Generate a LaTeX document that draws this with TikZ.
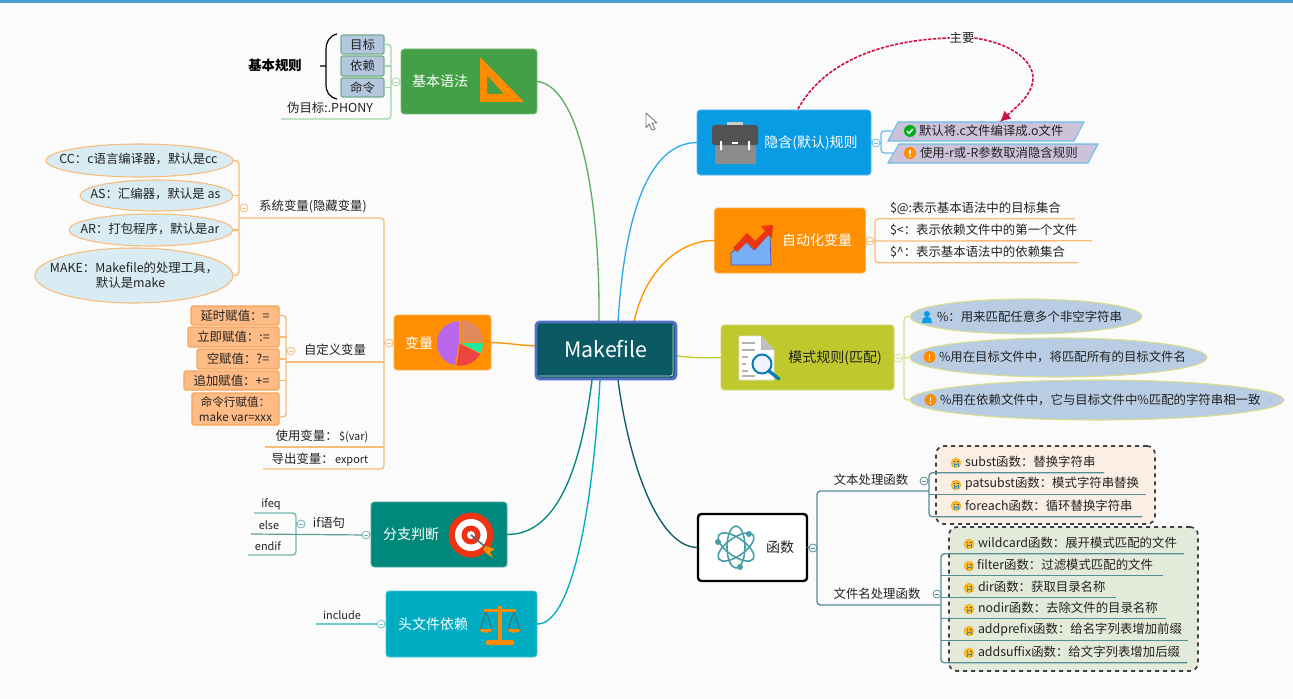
\documentclass[tikz,border=0pt]{standalone}
\usepackage{fontspec}
\setmainfont{Noto Sans CJK SC}
\usetikzlibrary{shapes.geometric,arrows.meta,calc}

\definecolor{paper}{HTML}{FBFBFC}
\definecolor{topbar}{HTML}{4A9FD0}
\definecolor{ink}{HTML}{222222}
\definecolor{cGreen}{HTML}{43A047}
\definecolor{cBlue}{HTML}{0A9BE5}
\definecolor{cOrange}{HTML}{FF8F00}
\definecolor{cLime}{HTML}{BFC92E}
\definecolor{cTeal}{HTML}{00897B}
\definecolor{cCyan}{HTML}{00ACC1}
\definecolor{cDark}{HTML}{0B5A63}
\definecolor{lGreen}{HTML}{A3D3A6}
\definecolor{lOrange}{HTML}{F8BC78}
\definecolor{lBlue}{HTML}{6BBDE8}
\definecolor{lLime}{HTML}{DADF8C}
\definecolor{lTeal}{HTML}{73B8B0}
\definecolor{lCyan}{HTML}{6FCBD8}
\definecolor{lDark}{HTML}{558F96}
\definecolor{rel}{HTML}{D01040}
\definecolor{iconY}{HTML}{F5B82E}
\definecolor{cellO}{HTML}{FFBB85}
\definecolor{lineO}{HTML}{F6A55A}
\definecolor{bCell}{HTML}{B4C7DF}
\definecolor{bCellLine}{HTML}{6FAE8A}
\definecolor{ovalB}{HTML}{D9ECF4}
\definecolor{ovalP}{HTML}{B8CCE4}
\definecolor{lavender}{HTML}{CCC3DB}
\definecolor{panelA}{HTML}{FBEEE5}
\definecolor{panelB}{HTML}{E4EAD9}
\definecolor{pieTan}{HTML}{E08A5E}
\definecolor{pieGreen}{HTML}{1DE9A0}
\definecolor{pieRed}{HTML}{EF4444}
\definecolor{piePurple}{HTML}{B968EE}

\newcommand{\tsize}{\fontsize{9.3}{11}\selectfont}
\newcommand{\bsize}{\fontsize{10.5}{12}\selectfont}
\newcommand{\lsize}{\fontsize{8.2}{10}\selectfont}

\tikzset{
  every node/.style={inner sep=0pt,outer sep=0pt,text=ink,font=\tsize},
  tx/.style={anchor=west},
  topicbox/.style={rectangle,rounded corners=2.5pt,draw=#1!70!white,line width=.7pt,fill=#1},
  topictext/.style={text=white,font=\bsize},
  mainline/.style={line width=1pt},
  branch/.style={line width=1pt,rounded corners=2.5pt},
  junction/.style={circle,draw=#1,fill=paper,line width=.6pt,minimum size=6pt,
    path picture={\draw[#1,line width=.5pt] ([xshift=-1.6pt]path picture bounding box.center) -- ([xshift=1.6pt]path picture bounding box.center);}},
  oval/.style={ellipse,line width=.8pt,align=center},
  bluecell/.style={rectangle,rounded corners=1.5pt,fill=bCell,line width=.9pt,draw=bCellLine},
  varcell/.style={rectangle,rounded corners=1.5pt,fill=cellO,draw=lineO,line width=.9pt,align=center},
  dashpanel/.style={rectangle,rounded corners=6pt,draw=black!75,dashed,line width=1.3pt,fill=#1},
  relation/.style={rel,line width=1.2pt,dash pattern=on 2.5pt off 1.1pt},
  goodmark/.pic={
    \fill[green!65!black!90!cyan] (0,0) circle (6);
    \draw[white,line width=1pt] (-3,0) -- (-1,2.3) -- (3,-2);
  },
  warnmark/.pic={
    \fill[orange!90!yellow] (0,0) circle (6);
    \fill[white] (-.9,-3.5) rectangle (.9,1.3);
    \fill[white] (0,3.2) circle (1);
  },
  personmark/.pic={
    \fill[cBlue] (0,-3) circle (3);
    \fill[cBlue] (-5,6) -- (-4,1.5) -- (-1.5,0) -- (1.5,0) -- (4,1.5) -- (5,6) -- cycle;
  },
  funmark/.pic={
    \fill[iconY] (0,0) circle (5.3);
    \draw[cBlue!70!gray,line width=.7pt] (-2,-.5) -- (-2,4) (2,-.5) -- (2,4) (-2,1.2) -- (2,1.2);
    \draw[black!60!iconY,line width=.6pt] (-2.5,-2) -- (-1,-2) (1,-2) -- (2.5,-2);
  }
}

% A text with a rule beneath it: name, x, y of the text, x of the rule end, text
\newcommand{\leafrow}[5]{%
  \node[tx] (#1) at (#2,#3) {#5};
  \pgfmathsetmacro{\ruley}{#3+10.8}
  \coordinate (#1-end) at (#4,\ruley);
}

\begin{document}
\begin{tikzpicture}[x=0.75pt,y=-0.75pt]
\useasboundingbox (0,0) rectangle (1293,699);
\fill[paper] (0,0) rectangle (1293,699);
\fill[topbar] (0,0) rectangle (1293,3);

% pointer
\draw[gray,fill=white,line width=.7pt,line join=round]
  (646,113) -- (657,123) -- (652,123) -- (655,129) -- (652,130) -- (649,124) -- (646,128) -- cycle;

% ---------- central topic and main topics
\node[topicbox=cGreen,minimum width=0.75*136pt,minimum height=0.75*65pt] (gram) at (469,81.5) {};
\node[topicbox=cBlue,minimum width=0.75*174pt,minimum height=0.75*65pt] (impl) at (784,142.5) {};
\node[topicbox=cOrange,minimum width=0.75*151pt,minimum height=0.75*65pt] (auto) at (790,240.5) {};
\node[topicbox=cLime,minimum width=0.75*173pt,minimum height=0.75*65pt] (patt) at (807.5,357.5) {};
\node[rectangle,rounded corners=2.5pt,draw=black,line width=1.8pt,fill=white,minimum width=0.75*109pt,minimum height=0.75*67pt] (func) at (752.5,547.5) {};
\node[topicbox=cOrange,minimum width=0.75*97pt,minimum height=0.75*55pt] (vars) at (442.5,342.5) {};
\node[topicbox=cTeal,minimum width=0.75*136pt,minimum height=0.75*65pt] (cond) at (439,534.5) {};
\node[topicbox=cCyan,minimum width=0.75*151pt,minimum height=0.75*66pt] (incl) at (461.5,624) {};

\coordinate (mG) at (599,322);
\coordinate (mB) at (618,322);
\coordinate (mO) at (634,322);
\coordinate (mL) at (677,356);
\coordinate (mV) at (536,346);
\coordinate (mT) at (592,380);
\coordinate (mC) at (600,380);
\coordinate (mD) at (618,380);
\draw[mainline,cGreen!85!white] (mG) .. controls (600,180) and (575,85) .. (gram.east);
\draw[mainline,cBlue!85!white] (mB) .. controls (625,210) and (650,143) .. (impl.west);
\draw[mainline,orange!85!yellow] (mO) .. controls (645,270) and (680,240) .. (auto.west);
\draw[mainline,cLime] (mL) .. controls (695,358) and (705,358) .. (patt.west);
\draw[mainline,orange!85!yellow] (mV) .. controls (515,345) and (510,343) .. (vars.east);
\draw[mainline,cTeal] (mT) .. controls (582,460) and (560,535) .. (cond.east);
\draw[mainline,cCyan] (mC) .. controls (592,520) and (570,625) .. (incl.east);
\draw[mainline,cDark] (mD) .. controls (630,470) and (660,548) .. (func.west);

\node[rectangle,rounded corners=3pt,draw=blue!45!cDark!70!white,line width=2.2pt,fill=cDark,minimum width=0.75*140pt,minimum height=0.75*57pt] (make) at (606,350.5) {};
\draw[white!80!cDark,line width=.6pt,rounded corners=2pt] ($(make.south west)+(3,-3)$) -- ($(make.south east)+(-3,-3)$) -- ($(make.north east)+(-3,3)$);
\node[text=white,font=\fontsize{16}{18}\selectfont] (maketext) at (606,349.5) {Makefile};

% ---------- basic syntax
\node[topictext] (gramtext) at (440,81) {基本语法};
\fill[orange!90!yellow,even odd rule] (480,57) -- (524,102) -- (480,102) -- cycle (487,75) -- (504,94) -- (487,94) -- cycle;
\node[junction=lGreen] (jG) at (396,82) {};
\coordinate (trG) at (391,82);
\node[bluecell,minimum width=0.75*43pt,minimum height=0.75*19pt] (g1) at (362.5,44.5) {目标};
\node[bluecell,minimum width=0.75*43pt,minimum height=0.75*20pt] (g2) at (362.5,66) {依赖};
\node[bluecell,minimum width=0.75*43pt,minimum height=0.75*19pt] (g3) at (362.5,87.5) {命令};
\node (g4) at (330,108) {伪目标:.PHONY};
\coordinate (g4-end) at (281,119);
\draw[branch,lGreen] (g1.east) -- (trG |- g1.east) -- (trG |- g4-end) -- (g4-end);
\draw[branch,lGreen] (g2.east) -- (trG |- g2.east);
\draw[branch,lGreen] (g3.east) -- (trG |- g3.east);
\draw[branch,lGreen] (trG) -- (jG) (jG) -- (gram.west);
\node[font=\bfseries\fontsize{10}{12}\selectfont,text=black] (rules) at (275,65) {基本规则};
\coordinate (brTop) at (337,34);
\coordinate (brBot) at (337,99);
\coordinate (brMid) at (325.5,66);
\coordinate (brTick) at (320,66);
\draw[black,line width=.9pt] (brTop) .. controls (329,36) and (326,42) .. (326,50) -- (326,84) .. controls (326,92) and (329,97) .. (brBot) (brTick) -- (brMid);

% ---------- variables
\node[topictext] (varstext) at (419,343) {变量};
\begin{scope}[shift={(460,343)},y=0.75pt]
  \fill[pieTan] (1,1) -- (1,23) arc[start angle=90,end angle=0,radius=22] -- cycle;
  \fill[pieGreen] (1,0) -- (23,0) arc[start angle=0,end angle=-28,radius=22] -- cycle;
  \fill[pieRed] (0,-1) -- (20,-11) arc[start angle=-28,end angle=-100,radius=22] -- cycle;
  \fill[piePurple] (-1,0) -- (-5,-22) arc[start angle=-100,end angle=-270,radius=22] -- cycle;
\end{scope}
\node[junction=lOrange] (jV) at (389,343) {};
\coordinate (trV) at (384,343);
\draw[branch,lOrange] (trV) -- (jV) (jV) -- (vars.west);

\node[junction=lOrange] (jSys) at (244,208) {};
\coordinate (trSys) at (239,208);
\node (systext) at (313,206) {系统变量(隐藏变量)};
\coordinate (sysend) at (240,218);
\node[oval,draw=lOrange,fill=ovalB,minimum width=0.75*187pt,minimum height=0.75*33pt] (o1) at (139.5,160.5) {};
\node[oval,draw=lOrange,fill=ovalB,minimum width=0.75*153pt,minimum height=0.75*31pt] (o2) at (156.5,195.5) {};
\node[oval,draw=lOrange,fill=ovalB,minimum width=0.75*164pt,minimum height=0.75*32pt] (o3) at (151,230) {};
\node[oval,draw=lOrange,fill=ovalB,minimum width=0.75*198pt,minimum height=0.75*55pt] (o4) at (134,275.5) {};
\node (o1t) at (138.5,159) {CC：c语言编译器，默认是cc};
\node (o2t) at (155.5,194) {AS：汇编器，默认是 as};
\node (o3t) at (150,229) {AR：打包程序，默认是ar};
\node[anchor=west,align=left] (o4t) at (50,275) {MAKE：Makefile的处理工具，\\\hspace*{34.5pt}默认是make};
\draw[branch,lOrange] (o1.east) -- (trSys |- o1.east) -- (trSys |- o4.east) -- (o4.east);
\draw[branch,lOrange] (o2.east) -- (trSys |- o2.east);
\draw[branch,lOrange] (o3.east) -- (trSys |- o3.east);
\draw[branch,lOrange] (trSys) -- (jSys);

\node[varcell,minimum width=0.75*88pt,minimum height=0.75*19pt] (c1) at (235,315.5) {延时赋值：=};
\node[varcell,minimum width=0.75*91pt,minimum height=0.75*20pt] (c2) at (233.5,337) {立即赋值：:=};
\node[varcell,minimum width=0.75*82pt,minimum height=0.75*20pt] (c3) at (238,359) {空赋值：?=};
\node[varcell,minimum width=0.75*95pt,minimum height=0.75*19pt] (c4) at (231.5,380.5) {追加赋值：+=};
\node[varcell,minimum width=0.75*87pt,minimum height=0.75*32pt,font=\fontsize{8.7}{11}\selectfont] (c5) at (235.5,409) {命令行赋值：\\make var=xxx};
\node[junction=lOrange] (jCus) at (291,351) {};
\coordinate (trCus) at (286,351);
\node (custext) at (335,350) {自定义变量};
\coordinate (cusend) at (286,362);
\draw[branch,lOrange] (c1.east) -- (trCus |- c1.east) -- ([yshift=-6pt]trCus |- c5.east) -- ([yshift=-6pt]c5.east);
\draw[branch,lOrange] (c2.east) -- (trCus |- c2.east);
\draw[branch,lOrange] (c3.east) -- (trCus |- c3.east);
\draw[branch,lOrange] (c4.east) -- (trCus |- c4.east);
\draw[branch,lOrange] (trCus) -- (jCus);
\draw[branch,lOrange] (cusend) -- (trV |- cusend);

\node (use) at (322,436) {使用变量：\hspace{1pt}{\lsize\$(var)}};
\coordinate (use-end) at (265,447);
\node (exp) at (320,459) {导出变量：\hspace{1pt}{\lsize export}};
\coordinate (exp-end) at (263,469);
\draw[branch,lOrange] (sysend) -- (trV |- sysend) -- (trV |- exp-end) -- (exp-end);
\draw[branch,lOrange] (use-end) -- (trV |- use-end);

% ---------- branching
\node[topictext] (condtext) at (411,534) {分支判断};
\fill[red!70!orange!85!gray] (471,535) circle (22.5);
\fill[white] (471,535) circle (16);
\fill[red!70!orange!85!gray] (471,535) circle (9.5);
\fill[white] (471,535) circle (4);
\draw[gray!80!black,line width=1.2pt] (471,535) -- (488,549);
\fill[orange!90!yellow] (486,546) -- (495,549) -- (490,552) -- (493,558) -- (486,553) -- (483,549) -- cycle;
\node[junction=lTeal] (jC) at (366,535) {};
\node (iftext) at (329,523) {if语句};
\node[junction=lTeal] (jIf) at (301,524) {};
\coordinate (trIf) at (296,524);
\node[font=\lsize] (ifeq) at (271,504) {ifeq};
\coordinate (ifeq-end) at (254,513);
\node[font=\lsize] (else) at (269,525) {else};
\coordinate (else-end) at (251,534);
\node[font=\lsize] (endif) at (268,546) {endif};
\coordinate (endif-end) at (248,555);
\draw[branch,lTeal] (ifeq-end) -- (trIf |- ifeq-end) -- (trIf |- endif-end) -- (endif-end);
\draw[branch,lTeal] (trIf) -- (jIf);
\draw[line width=.9pt,lTeal!85!black] (else-end) -- (jC);
\draw[branch,lTeal] (jC) -- (cond.west);

% ---------- header dependency
\node[topictext] (incltext) at (433,624) {头文件依赖};
\node[font=\lsize] (inc) at (342,615) {include};
\coordinate (inc-end) at (316,624);
\node[junction=lCyan] (jI) at (381,624) {};
\draw[branch,lCyan] (inc-end) -- (jI) (jI) -- (incl.west);
\draw[gray!70!black,line width=.5pt] (486,611) -- (480,630) (486,611) -- (492,630) (514,611) -- (508,630) (514,611) -- (520,630);
\fill[orange!90!yellow] (479,629) -- (493,629) .. controls (492,634) and (480,634) .. (479,629) -- cycle;
\fill[orange!90!yellow] (507,629) -- (521,629) .. controls (520,634) and (508,634) .. (507,629) -- cycle;
\fill[orange!90!yellow] (484,609) -- (516,609) -- (516,612) -- (484,612) -- cycle;
\fill[orange!90!yellow] (498,606) rectangle (502,642);
\fill[orange!90!yellow,rounded corners=1pt] (486,640) rectangle (514,645);

% ---------- implicit rules
\node[topictext] (impltext) at (811,143) {隐含(默认)规则};
\fill[black!45,rounded corners=1.5pt] (715,145) rectangle (756,164);
\fill[black!68,rounded corners=2pt] (712,125) rectangle (758,145);
\fill[black!20] (727,122) rectangle (743,125.5);
\fill[white] (732,142) rectangle (738,144);
\fill[white] (720,141) rectangle (722,150) (748,141) rectangle (750,150);
\node[junction=lBlue] (jImp) at (876,143) {};
\coordinate (trImp) at (881,143);
\coordinate (p1) at (893,131);
\coordinate (p2) at (893,153);
\draw[branch,lBlue] (p1) -- (trImp |- p1) -- (trImp |- p2) -- (p2);
\draw[branch,lBlue] (impl.east) -- (jImp) (jImp) -- (trImp);
\draw[fill=lavender,draw=lBlue,line width=.8pt] (888,141) -- (898,122) -- (1084,122) -- (1074,141) -- cycle;
\draw[fill=lavender,draw=lBlue,line width=.8pt] (888,163) -- (899,144) -- (1098,144) -- (1088,163) -- cycle;
\pic at (910,131) {goodmark};
\pic at (910,153) {warnmark};
\node[tx] (i1) at (919,131) {默认将.c文件编译成.o文件};
\node[tx] (i2) at (920,153) {使用-r或-R参数取消隐含规则};
\node (main) at (962,38) {主要};
\coordinate (relStart) at (798,109);
\coordinate (relEnd) at (1000,122);
\draw[relation] (relStart) .. controls (825,60) and (885,40) .. (main.west);
\draw[relation,-{Latex[length=8pt,width=8pt]}] (main.east) .. controls (1010,43) and (1033,60) .. (1033,78) .. controls (1033,95) and (1015,108) .. (relEnd);

% ---------- automatic variables
\node[topictext] (autotext) at (817,240) {自动化变量};
\fill[blue!30!cBlue!55!white,draw=blue!40!gray,line width=.5pt] (731,265) -- (731,253) -- (746,242) -- (754,250) -- (770,233) -- (771,265) -- cycle;
\fill[red!70!orange!85!gray] (733,248) -- (747,233) -- (755,241) -- (765,231) -- (761,226) -- (773,225) -- (772,238) -- (768,235) -- (755,250) -- (747,242) -- (737,252) -- cycle;
\node[junction=lOrange] (jA) at (870,241) {};
\coordinate (trA) at (875,241);
\leafrow{a1}{890}{208}{1075}{\$@:表示基本语法中的目标集合}
\leafrow{a2}{890}{230}{1092}{\$<：表示依赖文件中的第一个文件}
\leafrow{a3}{890}{252}{1078}{\$\textasciicircum：表示基本语法中的依赖集合}
\draw[branch,lOrange] (a1-end) -- (trA |- a1-end) -- (trA |- a3-end) -- (a3-end);
\draw[branch,lOrange] (auto.east) -- (jA) (jA) -- (trA) -- (a2-end);

% ---------- pattern rules
\node[text=ink,font=\bsize] (patttext) at (835,358) {模式规则(匹配)};
\fill[white,draw=black!15,line width=.4pt] (739,336) -- (761,336) -- (774,350) -- (774,380) -- (739,380) -- cycle;
\fill[black!25] (761,336) -- (761,350) -- (774,350) -- cycle;
\foreach \ly/\lx in {343/755,350/755,357/748,364/746,371/748,376/755}
  \draw[black!30,line width=.8pt] (742,\ly) -- (\lx,\ly);
\draw[cBlue!80!black,line width=1.5pt,fill=blue!5] (762,364) circle (9.5);
\draw[cBlue!80!black,line width=2.5pt,line cap=round] (769,371) -- (779,379);
\node[junction=lLime] (jP) at (898,358) {};
\coordinate (trP) at (904,358);
\node[oval,draw=lLime,fill=ovalP,minimum width=0.75*232pt,minimum height=0.75*35pt] (e1) at (1026,316.5) {};
\node[oval,draw=lLime,fill=ovalP,minimum width=0.75*297pt,minimum height=0.75*39pt] (e2) at (1058.5,357.5) {};
\node[oval,draw=lLime,fill=ovalP,minimum width=0.75*374pt,minimum height=0.75*40pt] (e3) at (1097,400) {};
\pic at (927,317) {personmark};
\pic at (929.5,357) {warnmark};
\pic at (930.5,400) {warnmark};
\node[tx] (e1t) at (937,317) {\%：用来匹配任意多个非空字符串};
\node[tx] (e2t) at (939,357) {\%用在目标文件中，将匹配所有的目标文件名};
\node[tx] (e3t) at (940,400) {\%用在依赖文件中，它与目标文件中\%匹配的字符串相一致};
\draw[branch,lLime] (e1.west) -- (trP |- e1.west) -- (trP |- e3.west) -- (e3.west);
\draw[branch,lLime] (trP) -- (e2.west);
\draw[branch,lLime] (patt.east) -- (jP) (jP) -- (trP);

% ---------- functions
\node[dashpanel=panelA,minimum width=0.75*219pt,minimum height=0.75*78pt] (panelText) at (1045.5,485) {};
\node[dashpanel=panelB,minimum width=0.75*249pt,minimum height=0.75*144pt] (panelFile) at (1073.5,599) {};
\node[text=ink,font=\bsize] (functext) at (780,547) {函数};
\begin{scope}[lDark!85!cyan,line width=1.2pt]
  \draw[rotate around={35:(736,547)}] (736,547) ellipse (21 and 9);
  \draw[rotate around={-35:(736,547)}] (736,547) ellipse (21 and 9);
  \draw[rotate around={90:(736,547)}] (736,547) ellipse (21 and 9);
  \fill (749,534) circle (3) (718,542) circle (3) (740,567) circle (3);
\end{scope}
\node[junction=lDark] (jF) at (813,548) {};
\coordinate (trF) at (817,548);
\node (ftxt) at (871,480) {文本处理函数};
\coordinate (ftxt-end) at (929,491);
\node[junction=lDark] (jTxt) at (924,481) {};
\node (ffile) at (877,594) {文件名处理函数};
\coordinate (ffile-end) at (941,605);
\node[junction=lDark] (jFile) at (937,594) {};
\draw[branch,lDark] (ftxt-end) -- (trF |- ftxt-end) -- (trF |- ffile-end) -- (ffile-end);
\draw[branch,lDark] (func.east) -- (jF) (jF) -- (trF);
\coordinate (trTxt) at (929,495);
\coordinate (trFile) at (941,605);

\leafrow{t1}{965}{462}{1104}{subst函数：替换字符串}
\leafrow{t2}{965}{484}{1146}{patsubst函数：模式字符串替换}
\leafrow{t3}{965}{506}{1142}{foreach函数：循环替换字符串}
\pic at (956,463) {funmark};
\pic at (956,485) {funmark};
\pic at (956,506) {funmark};
\draw[branch,lDark] (t1-end) -- (trTxt |- t1-end) -- (trTxt |- t3-end) -- (t3-end);
\draw[branch,lDark] (t2-end) -- (trTxt |- t2-end);

\leafrow{n1}{978}{543}{1184}{wildcard函数：展开模式匹配的文件}
\leafrow{n2}{977}{565}{1163}{filter函数：过滤模式匹配的文件}
\leafrow{n3}{978}{587}{1116}{dir函数：获取目录名称}
\leafrow{n4}{978}{608}{1166}{nodir函数：去除文件的目录名称}
\leafrow{n5}{978}{630}{1188}{addprefix函数：给名字列表增加前缀}
\leafrow{n6}{978}{652}{1187}{addsuffix函数：给文字列表增加后缀}
\foreach \py in {544,566,588,609,631,653} \pic at (969,\py) {funmark};
\draw[branch,lDark] (n1-end) -- (trFile |- n1-end) -- (trFile |- n6-end) -- (n6-end);
\draw[branch,lDark] (n2-end) -- (trFile |- n2-end);
\draw[branch,lDark] (n3-end) -- (trFile |- n3-end);
\draw[branch,lDark] (n4-end) -- (trFile |- n4-end);
\draw[branch,lDark] (n5-end) -- (trFile |- n5-end);
\end{tikzpicture}
\end{document}
